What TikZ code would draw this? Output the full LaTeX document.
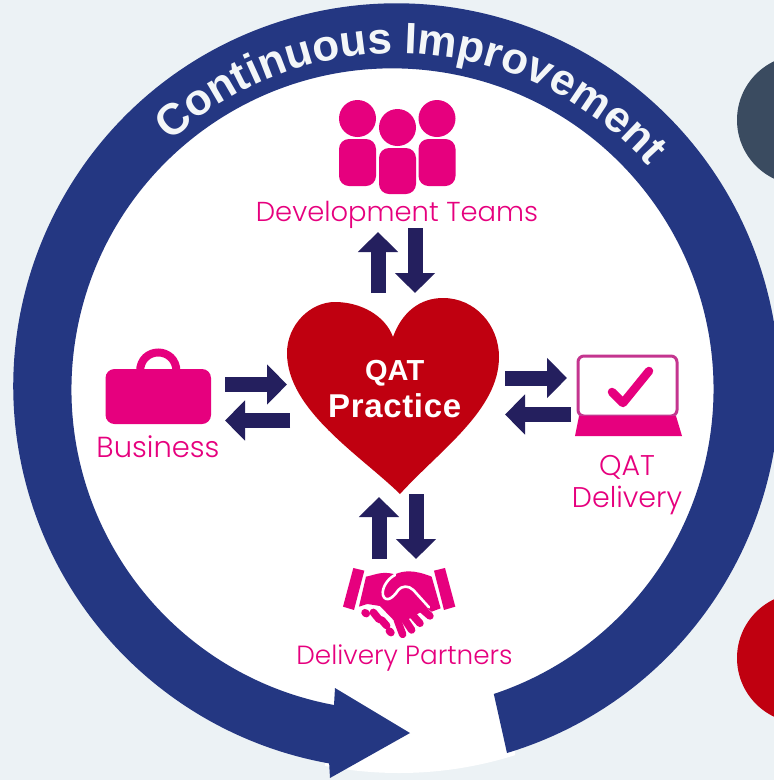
\documentclass[tikz,border=0pt]{standalone}
\usepackage{fontspec}
\setmainfont{Poppins Light}
\newfontfamily\ringfont{Liberation Sans}
\usetikzlibrary{arrows.meta,decorations.text}
\definecolor{bgc}{HTML}{ECF2F5}
\definecolor{ringc}{HTML}{243782}
\definecolor{arrowc}{HTML}{241F5E}
\definecolor{pinkc}{HTML}{E6007E}
\definecolor{redc}{HTML}{C00010}
\definecolor{slatec}{HTML}{3A4B60}
\definecolor{screenc}{HTML}{C4358F}
\definecolor{ringtextc}{HTML}{F3F6F8}
\tikzset{
  blockarrow/.style={draw=arrowc,line width=15pt,-{Triangle[length=20pt,width=39pt,sep=0pt,fill=arrowc]}},
  label/.style={text=pinkc,inner sep=0pt,anchor=base},
  heartlabel/.style={text=white,inner sep=0pt,anchor=base},
  finger/.style={draw=pinkc,line cap=round,line width=7.5pt}
}
\begin{document}
\begin{tikzpicture}[x=1pt,y=-1pt]
\useasboundingbox (0,0) rectangle (774,780);
\fill[bgc] (0,0) rectangle (774,780);
% side discs
\fill[slatec] (802,120) circle[radius=65pt];
\fill[redc] (802,658) circle[radius=65pt];
% white disc
\fill[white] (397,389) circle[radius=380pt];
\begin{scope}
  \clip (325,600) rectangle (515,780);
  \fill[white] (399,389) circle[radius=384pt];
\end{scope}
% ring with arrowhead
\fill[ringc] (507,753) arc[start angle=-73.2,end angle=259.9,radius=383pt]
  -- (330,778) -- (410,733) -- (335,688) -- (334,705)
  arc[start angle=259.5,end angle=-71.6,radius=321pt] -- cycle;
% ring text
\path[decorate,decoration={text along path,text align=center,
  text={|\ringfont\bfseries\fontsize{44}{44}\selectfont\color{ringtextc}|Continuous Improvement}}]
  (148,164) arc[start angle=138,end angle=36,radius=335pt];
% heart
\fill[redc] (400,494) .. controls (360,455) and (287,410) .. (287,353)
  .. controls (287,325) and (310,302) .. (335,302)
  .. controls (360,302) and (385,315) .. (393,337)
  .. controls (402,312) and (420,298) .. (443,298)
  .. controls (475,298) and (499,325) .. (499,357)
  .. controls (499,410) and (440,450) .. (400,494) -- cycle;
\node[heartlabel,font=\ringfont\bfseries\fontsize{29}{30}\selectfont] (qat) at (394.7,380) {QAT};
\node[heartlabel,font=\ringfont\bfseries\fontsize{33}{34}\selectfont\addfontfeature{LetterSpace=2}] (practice) at (394.7,417) {Practice};
% development teams icon
\fill[pinkc] (357.5,118.5) circle[radius=18.5pt] (397.5,127.5) circle[radius=18.5pt] (437,118.5) circle[radius=18.5pt];
\fill[pinkc,rounded corners=10pt] (339,139) rectangle (376,186);
\fill[pinkc,rounded corners=10pt] (379,148) rectangle (416,194);
\fill[pinkc,rounded corners=10pt] (418.5,139) rectangle (455.5,186);
\node[label,font=\fontsize{27.4}{30}\selectfont] (dev) at (397,221) {Development Teams};
% business icon
\draw[pinkc,line width=8pt] (140,372) .. controls (140,346) and (176.5,346) .. (176.5,372);
\fill[pinkc,rounded corners=9pt] (105.5,369) rectangle (211,424);
\node[label,font=\fontsize{29}{30}\selectfont] (bus) at (158,457) {Business};
% laptop icon
\draw[screenc,line width=3pt,rounded corners=6pt] (578,356) rectangle (677,416);
\fill[pinkc] (579,416) -- (676,416) -- (682,436) -- (575,436) -- cycle;
\draw[pinkc,line width=8.5pt,line cap=round,line join=round] (612,392) -- (623,403) -- (649,371);
\node[label,font=\fontsize{28.5}{30}\selectfont] (qd1) at (627,475) {QAT};
\node[label,font=\fontsize{28.5}{30}\selectfont] (qd2) at (627,507) {Delivery};
% handshake icon
\begin{scope}[shift={(280,480)},x=0.3333pt,y=-0.3333pt]
  \fill[pinkc] (220,264) -- (253,272) -- (222,390) -- (189,380) -- cycle;
  \fill[pinkc] (462,272) -- (495,264) -- (526,380) -- (492,390) -- cycle;
  \fill[pinkc] (258,290) .. controls (285,285) and (305,272) .. (345,283)
    .. controls (370,272) and (400,268) .. (455,290) -- (482,385) -- (455,395) -- (440,385)
    -- (400,410) -- (370,425) -- (350,430) -- (300,378) -- (262,372) -- (237,380) -- cycle;
  \draw[finger] (400,365) -- (450,408);
  \draw[finger] (380,385) -- (420,430);
  \draw[finger] (365,405) -- (395,450);
  \draw[finger] (352,420) -- (368,463);
  \draw[white,line width=2.6pt,line cap=round] (345,285) .. controls (318,298) and (300,335) .. (312,352)
    .. controls (325,368) and (345,345) .. (355,330)
    .. controls (365,318) and (385,315) .. (400,330) -- (447,382);
  \draw[finger] (255,398) -- (259,401);
  \draw[finger] (280,397) -- (297,418);
  \draw[finger] (305,420) -- (320,437);
  \draw[finger] (328,453) -- (333,458);
\end{scope}
\node[label,font=\fontsize{26.3}{30}\selectfont] (dp) at (404.5,664) {Delivery Partners};
% connectors
\coordinate (hTopL) at (378,293); \coordinate (devL) at (378,232);
\coordinate (devR) at (415,228); \coordinate (hTopR) at (415,293);
\coordinate (hBotL) at (379,559); \coordinate (dpL) at (379,497);
\coordinate (hBotR) at (416,494); \coordinate (dpR) at (416,559);
\coordinate (hRa) at (505,378); \coordinate (qdA) at (567,378);
\coordinate (qdB) at (571,414.5); \coordinate (hRb) at (505,414.5);
\coordinate (busA) at (225,384.5); \coordinate (hLa) at (287,384.5);
\coordinate (hLb) at (290,420.5); \coordinate (busB) at (225,420.5);
\draw[blockarrow] (hTopL) -- (devL);
\draw[blockarrow] (devR) -- (hTopR);
\draw[blockarrow] (hBotL) -- (dpL);
\draw[blockarrow] (hBotR) -- (dpR);
\draw[blockarrow] (hRa) -- (qdA);
\draw[blockarrow] (qdB) -- (hRb);
\draw[blockarrow] (busA) -- (hLa);
\draw[blockarrow] (hLb) -- (busB);
\end{tikzpicture}
\end{document}
